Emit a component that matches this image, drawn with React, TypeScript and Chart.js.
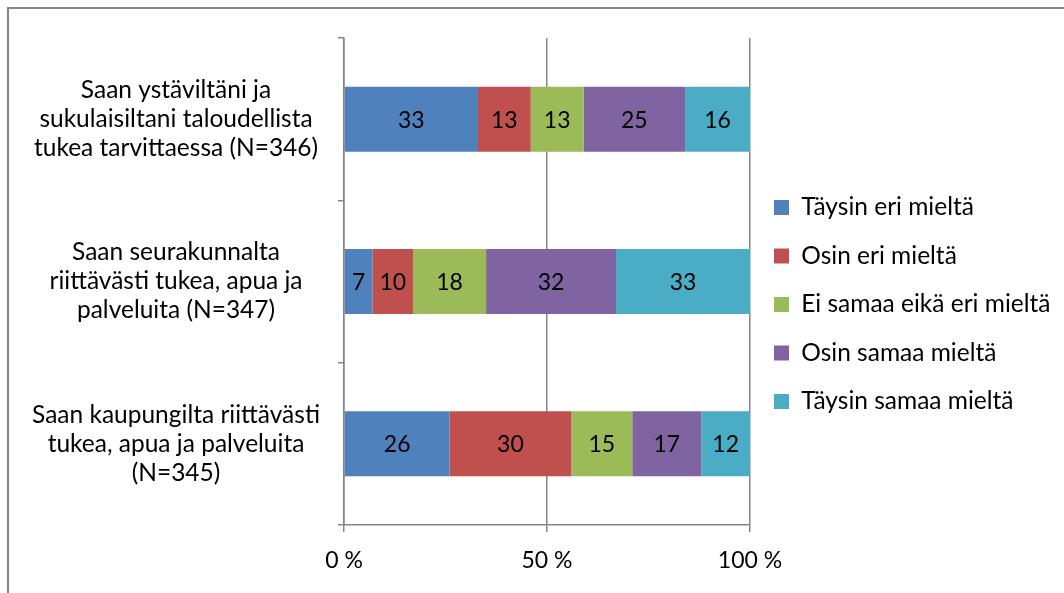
import React, { useEffect, useRef } from "react";
import { Chart, registerables } from "chart.js";

Chart.register(...registerables);

const categories: string[][] = [
  ["Saan ystäviltäni ja", "sukulaisiltani taloudellista", "tukea tarvittaessa (N=346)"],
  ["Saan seurakunnalta", "riittävästi tukea, apua ja", "palveluita (N=347)"],
  ["Saan kaupungilta riittävästi", "tukea, apua ja palveluita", "(N=345)"],
];
const seriesNames = [
  "Täysin eri mieltä",
  "Osin eri mieltä",
  "Ei samaa eikä eri mieltä",
  "Osin samaa mieltä",
  "Täysin samaa mieltä",
];
const taysinEri = [33, 7, 26];
const osinEri = [13, 10, 30];
const eiSamaa = [13, 18, 15];
const osinSamaa = [25, 32, 17];
const taysinSamaa = [16, 33, 12];
const seriesColors = ["#4F81BD", "#C0504D", "#9BBB59", "#8064A2", "#4BACC6"];
const xTickValues = [0, 50, 100];

const FONT = "Lato, 'Open Sans', sans-serif";
const AXIS_COLOR = "#868686";
const LEGEND_WIDTH = 304;

const dataLabelPlugin = {
  id: "dataLabels",
  afterDatasetsDraw(chart: any) {
    const ctx = chart.ctx;
    ctx.save();
    ctx.font = `23px ${FONT}`;
    ctx.fillStyle = "#000";
    ctx.textAlign = "center";
    ctx.textBaseline = "middle";
    chart.data.datasets.forEach((ds: any, di: number) => {
      const meta = chart.getDatasetMeta(di);
      meta.data.forEach((el: any, i: number) => {
        const p = el.getCenterPoint();
        ctx.fillText(String(ds.data[i]), p.x, p.y + 1);
      });
    });
    ctx.restore();
  },
};

const legendWidthPlugin = {
  id: "legendWidth",
  beforeLayout(chart: any) {
    const lg = chart.legend;
    if (lg && !lg._widthPatched) {
      const orig = lg.fit;
      lg.fit = function (this: any) {
        orig.call(this);
        this.width = LEGEND_WIDTH;
      };
      lg._widthPatched = true;
    }
  },
};

export default function App() {
  const ref = useRef<HTMLCanvasElement>(null);
  useEffect(() => {
    if (!ref.current) return;
    const allSeries = [taysinEri, osinEri, eiSamaa, osinSamaa, taysinSamaa];
    const chart = new Chart(ref.current, {
      type: "bar",
      data: {
        labels: categories,
        datasets: allSeries.map((d, i) => ({
          label: seriesNames[i],
          data: d,
          backgroundColor: seriesColors[i],
          borderWidth: 0,
          barPercentage: 0.4,
          categoryPercentage: 1,
        })),
      },
      options: {
        indexAxis: "y",
        responsive: false,
        animation: false,
        devicePixelRatio: 1,
        layout: { padding: { left: 10, top: 38, right: 10, bottom: 22 } },
        plugins: {
          tooltip: { enabled: false },
          legend: {
            position: "right",
            align: "center",
            labels: {
              boxWidth: 15,
              boxHeight: 15,
              padding: 24,
              color: "#000",
              font: { family: FONT, size: 24.5 },
            },
          },
        },
        scales: {
          x: {
            type: "linear",
            stacked: true,
            min: 0,
            max: 100,
            afterBuildTicks: (scale: any) => {
              scale.ticks = xTickValues.map((v) => ({ value: v }));
            },
            afterFit: (scale: any) => {
              scale.height = 593 - 22 - 525;
            },
            ticks: {
              color: "#000",
              padding: 15,
              font: { family: FONT, size: 23 },
              callback: (v: any) => `${v} %`,
              maxRotation: 0,
            },
            grid: {
              color: AXIS_COLOR,
              lineWidth: 1.5,
              tickLength: 7,
            },
            border: { color: AXIS_COLOR, width: 1.5 },
          },
          y: {
            type: "category",
            stacked: true,
            afterFit: (scale: any) => {
              scale.width = 344 - 10;
              scale.paddingTop = 0;
              scale.paddingBottom = 0;
            },
            ticks: {
              color: "#000",
              crossAlign: "center",
              padding: 18,
              font: { family: FONT, size: 24.5, lineHeight: 1.18 },
            },
            grid: {
              color: AXIS_COLOR,
              lineWidth: 1.5,
              tickLength: 6,
              drawOnChartArea: false,
            },
            border: { color: AXIS_COLOR, width: 1.5 },
          },
        },
      },
      plugins: [legendWidthPlugin, dataLabelPlugin],
    } as any);
    return () => chart.destroy();
  }, []);

  return (
    <div style={{ position: "absolute", left: 0, top: 0, width: 1064, height: 593, overflow: "hidden", background: "#fff" }}>
      <canvas ref={ref} width={1064} height={593} style={{ position: "absolute", left: 0, top: 0 }} />
      <div
        style={{
          position: "absolute",
          left: 7,
          top: 7,
          width: 1200,
          height: 700,
          border: `2px solid ${AXIS_COLOR}`,
          boxSizing: "border-box",
          pointerEvents: "none",
        }}
      />
    </div>
  );
}
